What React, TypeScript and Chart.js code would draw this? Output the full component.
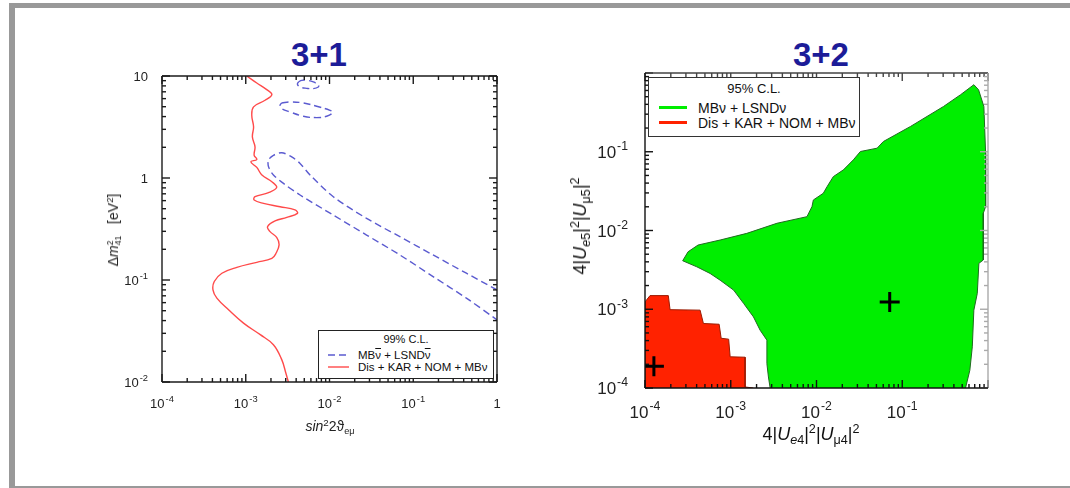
import React, { useEffect, useRef } from 'react';
import { Chart, registerables } from 'chart.js';

Chart.register(...registerables);

const FONT = '"Liberation Sans", Arial, Helvetica, sans-serif';

// ---------- 3+1 panel data ----------
const leftXTickValues = [1e-4, 1e-3, 1e-2, 1e-1, 1];
const leftXTickLabels = ['10⁻⁴', '10⁻³', '10⁻²', '10⁻¹', '1'];
const leftYTickValues = [1e-2, 1e-1, 1, 10];
const leftYTickLabels = ['10⁻²', '10⁻¹', '1', '10'];

// Dis + KAR + NOM + MBν exclusion curve
const disX = [1.03e-3, 1.355e-3, 1.78e-3, 2.05e-3, 1.70e-3, 1.24e-3, 1.18e-3, 1.24e-3, 1.20e-3, 1.29e-3, 1.26e-3, 1.355e-3, 1.15e-3, 1.355e-3, 1.56e-3, 2.05e-3, 2.34e-3, 1.87e-3, 1.29e-3, 1.26e-3, 1.63e-3, 2.57e-3, 3.88e-3, 4.14e-3, 3.09e-3, 2.24e-3, 1.82e-3, 1.95e-3, 2.34e-3, 2.50e-3, 2.30e-3, 2.05e-3, 1.355e-3, 7.83e-4, 5.19e-4, 4.21e-4, 4.06e-4, 4.52e-4, 6.23e-4, 9.40e-4, 1.49e-3, 2.14e-3, 2.69e-3, 3.01e-3, 3.23e-3];
const disY = [10, 8.54, 7.35, 6.56, 5.78, 4.98, 4.12, 3.17, 2.53, 2.02, 1.67, 1.52, 1.44, 1.27, 1.07, 0.919, 0.809, 0.718, 0.655, 0.608, 0.564, 0.523, 0.486, 0.45, 0.411, 0.379, 0.333, 0.298, 0.262, 0.221, 0.183, 0.163, 0.149, 0.133, 0.1165, 0.0966, 0.080, 0.0664, 0.0511, 0.0378, 0.0291, 0.0232, 0.01656, 0.01225, 0.01];

// MBν̄ + LSNDν̄ allowed band and islands
const bandX = [1, 0.431, 0.1725, 0.0692, 0.0277, 0.0111, 0.00586, 0.00445, 0.00354, 0.00269, 0.00214, 0.00187, 0.00187, 0.00214, 0.00282, 0.00445, 0.0111, 0.0277, 0.0692, 0.1725, 0.431, 1];
const bandY = [0.080, 0.1165, 0.176, 0.266, 0.402, 0.655, 1.07, 1.39, 1.61, 1.77, 1.67, 1.50, 1.29, 1.07, 0.885, 0.681, 0.433, 0.276, 0.176, 0.108, 0.0664, 0.0407];
const island1X = [0.00425, 0.00466, 0.00544, 0.00641, 0.00736, 0.00736, 0.00641, 0.00535, 0.00444, 0.00414, 0.00425];
const island1Y = [8.74, 9.07, 9.07, 8.74, 8.16, 7.80, 7.52, 7.57, 7.80, 8.29, 8.74];
const island2X = [0.00269, 0.00338, 0.00488, 0.00703, 0.01014, 0.01092, 0.00925, 0.00703, 0.00488, 0.00338, 0.00269, 0.00257, 0.00269];
const island2Y = [5.44, 5.57, 5.44, 5.05, 4.61, 4.38, 4.03, 3.91, 4.03, 4.44, 4.79, 5.16, 5.44];

// ---------- 3+2 panel data ----------
const rightXTickValues = [1e-4, 1e-3, 1e-2, 1e-1];
const rightXTickLabels = ['10⁻⁴', '10⁻³', '10⁻²', '10⁻¹'];
const rightYTickValues = [1e-4, 1e-3, 1e-2, 1e-1];
const rightYTickLabels = ['10⁻⁴', '10⁻³', '10⁻²', '10⁻¹'];

const greenX = [0.00288, 0.00275, 0.00264, 0.00264, 0.00220, 0.00184, 0.00141, 1.08e-3, 7.52e-4, 5.74e-4, 4.02e-4, 2.75e-4, 3.18e-4, 4.16e-4, 7.52e-4, 1.54e-3, 3.46e-3, 7.74e-3, 8.86e-3, 9.19e-3, 0.0120, 0.0133, 0.0157, 0.0206, 0.0269, 0.0325, 0.0509, 0.0603, 0.1247, 0.303, 0.479, 0.684, 0.776, 0.895, 0.938, 0.938, 0.881, 0.881, 0.783, 0.750, 0.684, 0.656, 0.614, 0.547];
const greenY = [1e-4, 1.38e-4, 2.04e-4, 4.05e-4, 5.42e-4, 8.0e-4, 1.19e-3, 1.75e-3, 2.34e-3, 2.85e-3, 3.46e-3, 4.13e-3, 5.37e-3, 6.54e-3, 7.57e-3, 9.2e-3, 0.01236, 0.01498, 0.0201, 0.0244, 0.0297, 0.0361, 0.0483, 0.0589, 0.0789, 0.1007, 0.111, 0.135, 0.2094, 0.376, 0.530, 0.710, 0.613, 0.376, 0.0968, 0.0201, 0.01656, 4.22e-3, 3.83e-3, 1.59e-3, 9.74e-4, 3.33e-4, 1.68e-4, 1e-4];

const redX = [1e-4, 1e-4, 1.144e-4, 1.87e-4, 1.96e-4, 4.39e-4, 4.80e-4, 7.32e-4, 7.73e-4, 9.45e-4, 9.84e-4, 1.47e-3, 1.47e-3, 1.83e-3];
const redY = [1e-4, 1.24e-3, 1.49e-3, 1.49e-3, 9.88e-4, 9.74e-4, 6.59e-4, 6.45e-4, 4.28e-4, 4.17e-4, 2.49e-4, 2.46e-4, 1.03e-4, 1e-4];

const bestFitX = [1.27e-4, 0.0714];
const bestFitY = [1.89e-4, 1.24e-3];

// ---------- helpers ----------
const pts = (xs: number[], ys: number[]) => xs.map((x, i) => ({ x, y: ys[i] }));

const SUP: Record<string, string> = { '⁻': '-', '⁰': '0', '¹': '1', '²': '2', '³': '3', '⁴': '4', '⁵': '5', '⁶': '6', '⁷': '7', '⁸': '8', '⁹': '9' };

function logAxis(min: number, max: number, values: number[], fit: number, horizontal: boolean) {
  return {
    type: 'logarithmic',
    min,
    max,
    grid: { display: false, drawTicks: false },
    border: { display: false },
    afterBuildTicks: (s: any) => {
      s.ticks = values.map((v) => ({ value: v }));
    },
    afterFit: (s: any) => {
      if (horizontal) s.height = fit;
      else s.width = fit;
    },
    ticks: { display: false, autoSkip: false },
  };
}

function drawPowLabel(ctx: CanvasRenderingContext2D, text: string, x: number, y: number, size: number, align: 'center' | 'right', color: string) {
  let base = '';
  let exp = '';
  for (const ch of text) {
    if (SUP[ch] !== undefined) exp += SUP[ch];
    else base += ch;
  }
  const es = size * 0.72;
  ctx.font = `${size}px ${FONT}`;
  const bw = ctx.measureText(base).width;
  ctx.font = `${es}px ${FONT}`;
  const ew = exp ? ctx.measureText(exp).width + 1 : 0;
  const total = bw + ew;
  const x0 = align === 'center' ? x - total / 2 : x - total;
  const baseline = y + size * 0.358;
  ctx.fillStyle = color;
  ctx.textAlign = 'left';
  ctx.textBaseline = 'alphabetic';
  ctx.font = `${size}px ${FONT}`;
  ctx.fillText(base, x0, baseline);
  if (exp) {
    ctx.font = `${es}px ${FONT}`;
    ctx.fillText(exp, x0 + bw + 1, baseline - size * 0.45);
  }
}

const frameTicks = {
  id: 'frameTicks',
  afterDatasetsDraw(chart: any, _args: any, opts: any) {
    const { ctx, chartArea: a, scales } = chart;
    const xs = scales.x;
    const ys = scales.y;
    const c = opts.colors;
    ctx.save();
    ctx.lineWidth = opts.lineWidth;
    ctx.lineCap = 'butt';
    const line = (x1: number, y1: number, x2: number, y2: number, col: string) => {
      ctx.strokeStyle = col;
      ctx.beginPath();
      ctx.moveTo(x1, y1);
      ctx.lineTo(x2, y2);
      ctx.stroke();
    };
    for (let d = Math.floor(Math.log10(xs.min)); d <= Math.ceil(Math.log10(xs.max)); d++) {
      for (let m = 1; m <= 9; m++) {
        const v = m * Math.pow(10, d);
        if (v < xs.min * 0.999 || v > xs.max * 1.001) continue;
        const p = xs.getPixelForValue(v);
        const L = m === 1 ? opts.major : opts.minor;
        line(p, a.bottom, p, a.bottom - L, c.bottom);
        line(p, a.top, p, a.top + L, c.top);
      }
    }
    for (let d = Math.floor(Math.log10(ys.min)); d <= Math.ceil(Math.log10(ys.max)); d++) {
      for (let m = 1; m <= 9; m++) {
        const v = m * Math.pow(10, d);
        if (v < ys.min * 0.999 || v > ys.max * 1.001) continue;
        const p = ys.getPixelForValue(v);
        const L = m === 1 ? opts.major : opts.minor;
        line(a.left, p, a.left + L, p, c.left);
        line(a.right, p, a.right - L, p, c.right);
      }
    }
    line(a.left, a.top, a.right, a.top, c.top);
    line(a.right, a.top, a.right, a.bottom, c.right);
    line(a.left, a.bottom, a.right, a.bottom, c.bottom);
    line(a.left, a.top, a.left, a.bottom, c.left);

    // tick labels
    const lx = opts.labels;
    lx.xValues.forEach((v: number, i: number) => {
      drawPowLabel(ctx, lx.xLabels[i], xs.getPixelForValue(v), a.bottom + lx.xOffset, lx.size, 'center', lx.color);
    });
    lx.yValues.forEach((v: number, i: number) => {
      drawPowLabel(ctx, lx.yLabels[i], a.left - lx.yOffset, ys.getPixelForValue(v), lx.size, 'right', lx.color);
    });
    ctx.restore();
  },
};

function leftConfig(): any {
  return {
    type: 'line',
    data: {
      datasets: [
        { label: 'Dis + KAR + NOM + MBν', data: pts(disX, disY), borderColor: '#ff4a4a', borderWidth: 1.4, pointRadius: 0, tension: 0.4, fill: false },
        { label: 'MBν̄ + LSNDν̄', data: pts(bandX, bandY), borderColor: '#5b5bd0', borderWidth: 1.4, borderDash: [7, 4], pointRadius: 0, tension: 0.3, fill: false },
        { label: 'MBν̄ + LSNDν̄ island 1', data: pts(island1X, island1Y), borderColor: '#5b5bd0', borderWidth: 1.4, borderDash: [7, 4], pointRadius: 0, tension: 0.4, fill: false },
        { label: 'MBν̄ + LSNDν̄ island 2', data: pts(island2X, island2Y), borderColor: '#5b5bd0', borderWidth: 1.4, borderDash: [7, 4], pointRadius: 0, tension: 0.4, fill: false },
      ],
    },
    options: {
      responsive: false,
      maintainAspectRatio: false,
      animation: false,
      events: [],
      layout: { padding: { top: 16, right: 23, left: 0, bottom: 0 } },
      plugins: {
        legend: { display: false },
        tooltip: { enabled: false },
        frameTicks: {
          major: 8,
          minor: 4,
          lineWidth: 1.4,
          colors: { left: '#1a1a1a', bottom: '#1a1a1a', top: '#1a1a1a', right: '#1a1a1a' },
          labels: { xValues: leftXTickValues, xLabels: leftXTickLabels, yValues: leftYTickValues, yLabels: leftYTickLabels, size: 13, xOffset: 21, yOffset: 14, color: '#222' },
        },
      },
      scales: {
        x: logAxis(1e-4, 1, leftXTickValues, 78, true),
        y: logAxis(1e-2, 10, leftYTickValues, 62, false),
      },
    },
    plugins: [frameTicks],
  };
}

function rightConfig(): any {
  return {
    type: 'line',
    data: {
      datasets: [
        { label: 'best fit', data: pts(bestFitX, bestFitY), showLine: false, pointStyle: 'cross', pointRadius: 10, pointBorderWidth: 3, borderColor: '#000', backgroundColor: '#000' },
        { label: 'Dis + KAR + NOM + MBν', data: pts(redX, redY), borderColor: '#9a1a00', backgroundColor: '#ff2200', borderWidth: 1, pointRadius: 0, tension: 0, fill: 'shape' },
        { label: 'MBν + LSNDν', data: pts(greenX, greenY), borderColor: '#1f6a1f', backgroundColor: '#00ee00', borderWidth: 1, pointRadius: 0, tension: 0, fill: 'shape' },
      ],
    },
    options: {
      responsive: false,
      maintainAspectRatio: false,
      animation: false,
      events: [],
      layout: { padding: { top: 13, right: 22, left: 0, bottom: 0 } },
      plugins: {
        legend: { display: false },
        tooltip: { enabled: false },
        frameTicks: {
          major: 8,
          minor: 4,
          lineWidth: 1.4,
          colors: { left: '#111', bottom: '#111', top: '#444', right: '#aaa' },
          labels: { xValues: rightXTickValues, xLabels: rightXTickLabels, yValues: rightYTickValues, yLabels: rightYTickLabels, size: 17, xOffset: 24, yOffset: 17, color: '#222' },
        },
      },
      scales: {
        x: logAxis(1e-4, 1, rightXTickValues, 72, true),
        y: logAxis(1e-4, 1, rightYTickValues, 85, false),
      },
    },
    plugins: [frameTicks],
  };
}

function ChartCanvas({ make, left, top, width, height }: { make: () => any; left: number; top: number; width: number; height: number }) {
  const ref = useRef<HTMLCanvasElement>(null);
  useEffect(() => {
    const chart = new Chart(ref.current as HTMLCanvasElement, make());
    return () => chart.destroy();
  }, []);
  return <canvas ref={ref} width={width} height={height} style={{ position: 'absolute', left, top, width, height }} />;
}

const abs = (s: any) => ({ position: 'absolute' as const, ...s });

export default function App() {
  const supS = { fontSize: '0.7em', verticalAlign: '0.55em', lineHeight: 0 } as const;
  const subS = { fontSize: '0.7em', verticalAlign: '-0.3em', lineHeight: 0 } as const;
  return (
    <div style={abs({ left: 0, top: 0, width: 1070, height: 488, background: '#fff', overflow: 'hidden', fontFamily: FONT, color: '#111' })}>
      <div style={abs({ left: 9, top: 3, width: 1100, height: 486, border: 'solid #999', borderWidth: '5px 0 3px 6px', boxSizing: 'border-box' })} />

      <div style={abs({ left: 239, top: 38, width: 160, textAlign: 'center', fontSize: 33, fontWeight: 'bold', lineHeight: '33px', color: '#1c1c98' })}>3+1</div>
      <div style={abs({ left: 741, top: 38, width: 160, textAlign: 'center', fontSize: 33, fontWeight: 'bold', lineHeight: '33px', color: '#1c1c98' })}>3+2</div>

      <ChartCanvas make={leftConfig} left={100} top={60} width={420} height={400} />
      <ChartCanvas make={rightConfig} left={560} top={60} width={450} height={400} />

      {/* left axis titles */}
      <div style={abs({ left: 330, top: 426, transform: 'translate(-50%,-50%)', fontSize: 14, whiteSpace: 'nowrap', lineHeight: '16px', color: '#222' })}>
        <i>sin</i><span style={supS}>2</span>2ϑ<span style={{ fontSize: '0.65em', verticalAlign: '-0.35em', lineHeight: 0 }}>eμ</span>
      </div>
      <div style={abs({ left: 114, top: 230, transform: 'translate(-50%,-50%) rotate(-90deg)', fontSize: 14, whiteSpace: 'nowrap', lineHeight: '16px', color: '#222' })}>
        Δ<i>m</i>
        <span style={{ display: 'inline-flex', flexDirection: 'column', fontSize: '0.62em', lineHeight: 1, verticalAlign: 'middle' }}>
          <span>2</span>
          <span>41</span>
        </span>
        &nbsp;&nbsp;&nbsp;[eV<span style={supS}>2</span>]
      </div>

      {/* right axis titles */}
      <div style={abs({ left: 811, top: 434, transform: 'translate(-50%,-50%)', fontSize: 18, whiteSpace: 'nowrap', lineHeight: '22px' })}>
        4|<i>U</i><span style={subS}><i>e</i>4</span>|<span style={supS}>2</span>|<i>U</i><span style={subS}>μ4</span>|<span style={supS}>2</span>
      </div>
      <div style={abs({ left: 580, top: 226, transform: 'translate(-50%,-50%) rotate(-90deg)', fontSize: 18, whiteSpace: 'nowrap', lineHeight: '22px' })}>
        4|<i>U</i><span style={subS}><i>e</i>5</span>|<span style={supS}>2</span>|<i>U</i><span style={subS}>μ5</span>|<span style={supS}>2</span>
      </div>

      {/* left legend */}
      <div style={abs({ left: 318, top: 330, width: 176, height: 49, border: '1px solid #222', boxSizing: 'border-box', background: '#fff', fontSize: 11.5 })}>
        <div style={abs({ left: 0, right: 0, top: 1, textAlign: 'center', fontSize: 11, lineHeight: '14px' })}>99% C.L.</div>
        <svg style={abs({ left: 9, top: 22 })} width={21} height={4}>
          <line x1={0} y1={2} x2={21} y2={2} stroke="#5b5bd0" strokeWidth={1.4} strokeDasharray="7 4" />
        </svg>
        <div style={abs({ left: 39, top: 17, lineHeight: '14px', whiteSpace: 'nowrap' })}>
          MB<span style={{ textDecoration: 'overline' }}>ν</span> + LSND<span style={{ textDecoration: 'overline' }}>ν</span>
        </div>
        <svg style={abs({ left: 9, top: 34 })} width={21} height={4}>
          <line x1={0} y1={2} x2={21} y2={2} stroke="#ff4a4a" strokeWidth={1.4} />
        </svg>
        <div style={abs({ left: 39, top: 29, lineHeight: '14px', whiteSpace: 'nowrap' })}>Dis + KAR + NOM + MBν</div>
      </div>

      {/* right legend */}
      <div style={abs({ left: 648, top: 77, width: 212, height: 60, border: '1px solid #333', boxSizing: 'border-box', background: '#fff', fontSize: 14 })}>
        <div style={abs({ left: 0, right: 0, top: 3, textAlign: 'center', fontSize: 13, lineHeight: '16px' })}>95% C.L.</div>
        <div style={abs({ left: 10, top: 28, width: 28, height: 3, background: '#00ee00' })} />
        <div style={abs({ left: 49, top: 22, lineHeight: '16px', whiteSpace: 'nowrap' })}>MBν + LSNDν</div>
        <div style={abs({ left: 10, top: 43, width: 28, height: 3, background: '#ff2200' })} />
        <div style={abs({ left: 49, top: 37, lineHeight: '16px', whiteSpace: 'nowrap' })}>Dis + KAR + NOM + MBν</div>
      </div>
    </div>
  );
}
